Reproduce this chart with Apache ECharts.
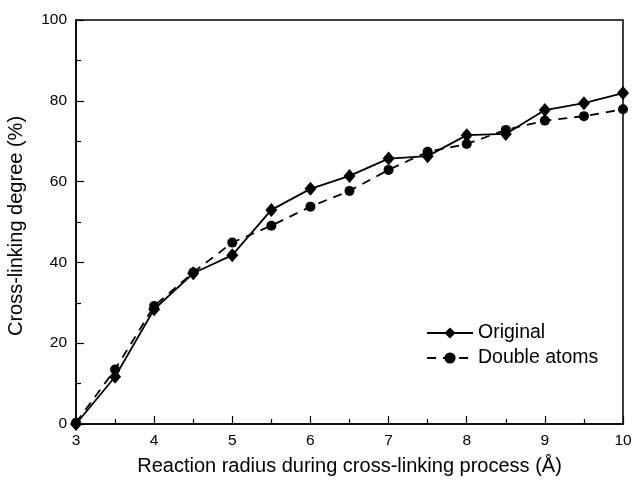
<!DOCTYPE html>
<html>
<head>
<meta charset="utf-8">
<script src="https://cdn.jsdelivr.net/npm/echarts@6/dist/echarts.min.js"></script>
<style>
  html, body { margin: 0; padding: 0; background: #fff; }
  #chart { width: 633px; height: 483px; }
</style>
</head>
<body>
<div id="chart"></div>
<script>
// reaction radius (Å)
const radius = [3, 3.5, 4, 4.5, 5, 5.5, 6, 6.5, 7, 7.5, 8, 8.5, 9, 9.5, 10];
// cross-linking degree (%)
const original = [0, 11.7, 28.4, 37.3, 41.8, 53.0, 58.2, 61.4, 65.7, 66.3, 71.5, 71.8, 77.7, 79.4, 81.9];
const doubleAtoms = [0.3, 13.5, 29.2, 37.5, 44.9, 49.1, 53.8, 57.7, 62.9, 67.4, 69.3, 72.8, 75.1, 76.2, 77.9];
const seriesNames = ['Original', 'Double atoms'];

const font = 'Liberation Sans, Arial, sans-serif';
const toPairs = vals => radius.map((x, i) => [x, vals[i]]);

const tickStyle = {color: '#000', width: 1.2};

const chart = echarts.init(document.getElementById('chart'));
chart.setOption({
  backgroundColor: '#ffffff',
  animation: false,
  grid: {
    left: 76, right: 10, top: 20, bottom: 59,
    outerBoundsMode: 'none',
    show: true, borderColor: '#000', borderWidth: 1.5, backgroundColor: 'transparent'
  },
  legend: {
    data: seriesNames,
    orient: 'vertical',
    left: 421, top: 318,
    itemWidth: 46, itemHeight: 14, itemGap: 5,
    textStyle: {fontFamily: font, fontSize: 19.5, color: '#000'}
  },
  xAxis: {
    type: 'value', min: 3, max: 10, interval: 1,
    name: 'Reaction radius during cross-linking process (Å)',
    nameLocation: 'middle', nameGap: 32,
    nameTextStyle: {fontFamily: font, fontSize: 20, color: '#000'},
    axisLine: {show: true, lineStyle: {color: '#000', width: 1.5}},
    axisTick: {show: true, inside: true, length: 8, lineStyle: tickStyle},
    minorTick: {show: true, splitNumber: 2, length: 5, lineStyle: tickStyle},
    splitLine: {show: false},
    axisLabel: {fontFamily: font, fontSize: 15.5, color: '#000', margin: 9}
  },
  yAxis: {
    type: 'value', min: 0, max: 100, interval: 20,
    name: 'Cross-linking degree (%)',
    nameLocation: 'middle', nameGap: 50,
    nameTextStyle: {fontFamily: font, fontSize: 20, color: '#000', padding: [0, 8, 0, 0]},
    axisLine: {show: true, lineStyle: {color: '#000', width: 1.5}},
    axisTick: {show: true, inside: true, length: 8, lineStyle: tickStyle},
    minorTick: {show: true, splitNumber: 2, length: 5, lineStyle: tickStyle},
    splitLine: {show: false},
    axisLabel: {fontFamily: font, fontSize: 15.5, color: '#000', margin: 9}
  },
  series: [
    {
      name: seriesNames[0],
      type: 'line',
      data: toPairs(original),
      symbol: 'diamond',
      symbolSize: [12, 14],
      showAllSymbol: true,
      itemStyle: {color: '#000'},
      lineStyle: {color: '#000', width: 1.8, type: 'solid'},
      z: 3
    },
    {
      name: seriesNames[1],
      type: 'line',
      data: toPairs(doubleAtoms),
      symbol: 'circle',
      symbolSize: 10,
      showAllSymbol: true,
      itemStyle: {color: '#000'},
      lineStyle: {color: '#000', width: 1.8, type: [9, 7]},
      z: 2
    }
  ]
});
</script>
</body>
</html>
